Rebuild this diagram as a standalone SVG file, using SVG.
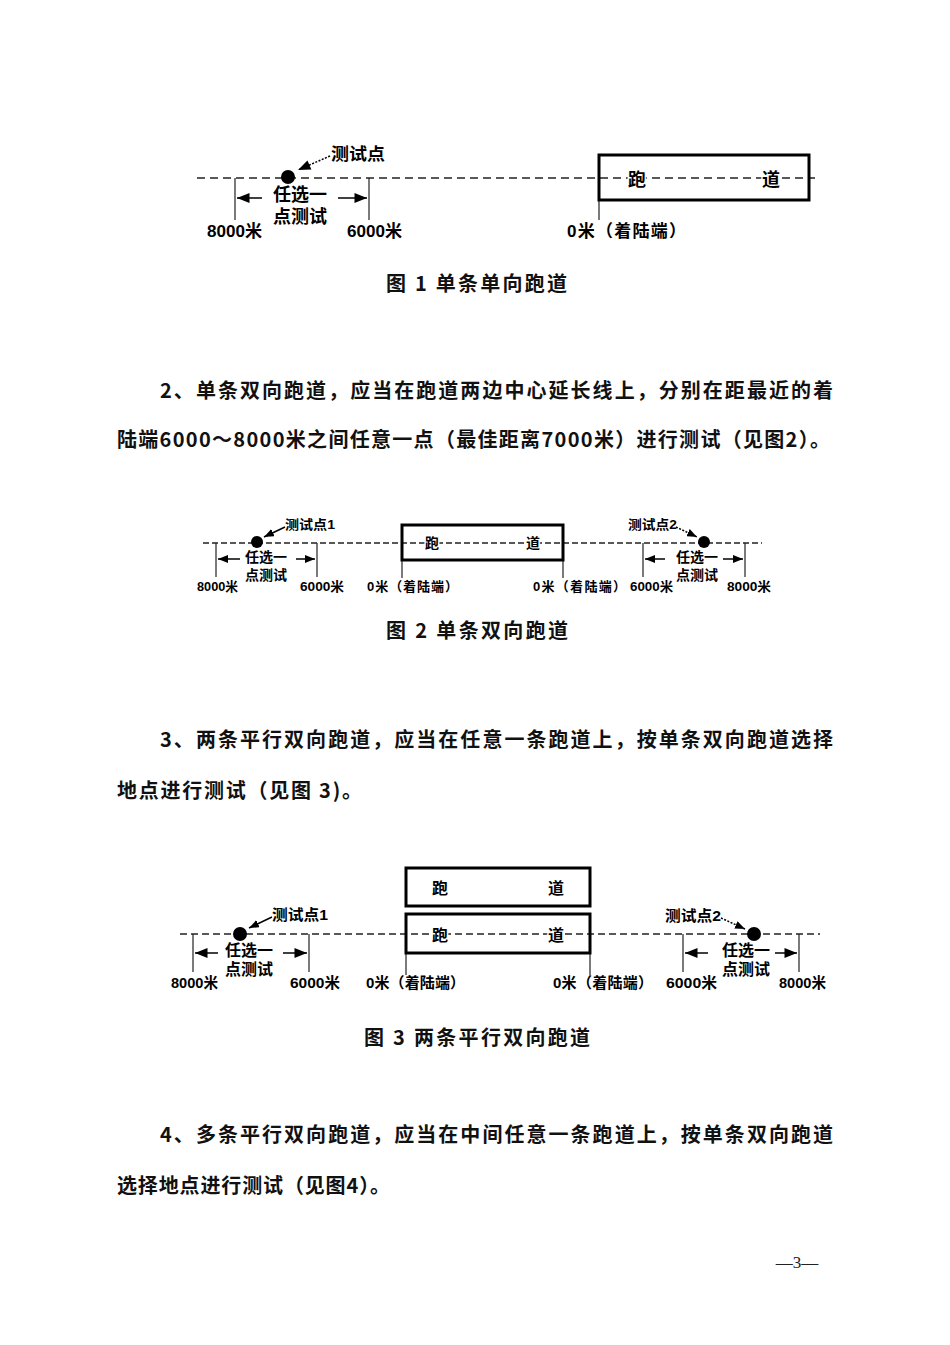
<svg xmlns="http://www.w3.org/2000/svg" width="950" height="1345" viewBox="0 0 950 1345">
<defs>
<style>
.lbl{font-family:"Liberation Sans","Noto Sans CJK SC",sans-serif;font-weight:bold;fill:#000;dominant-baseline:central}
.rw{font-family:"Noto Sans CJK SC",sans-serif;font-weight:bold;fill:#000;dominant-baseline:central;text-anchor:middle;stroke:#fff;stroke-width:3;paint-order:stroke}
.body{font-family:"Noto Sans CJK SC",sans-serif;font-weight:bold;font-size:20px;fill:#111;dominant-baseline:central}
.cap{font-family:"Noto Sans CJK SC",sans-serif;font-weight:bold;font-size:20px;fill:#111;dominant-baseline:central}
.dash{stroke:#222;stroke-width:1.5;fill:none}
.tick{stroke:#222;stroke-width:1.2;fill:none}
.box{stroke:#000;stroke-width:3;fill:none}
.arr{stroke:#000;stroke-width:1.5;fill:none}
.dot{fill:#000}
</style>
<marker id="ahL" viewBox="0 0 10 8" refX="10" refY="4" markerWidth="13" markerHeight="10" markerUnits="userSpaceOnUse" orient="auto"><path d="M0,0 L10,4 L0,8 z" fill="#000"/></marker>
<marker id="ahS" viewBox="0 0 10 8" refX="10" refY="4" markerWidth="10" markerHeight="8" markerUnits="userSpaceOnUse" orient="auto"><path d="M0,0 L10,4 L0,8 z" fill="#000"/></marker>
</defs>
<rect width="950" height="1345" fill="#fff"/>

<!-- ===== Figure 1 ===== -->
<g id="fig1">
<g id="fig1-connectors">
<line class="dash" x1="197" y1="178" x2="815" y2="178" stroke-dasharray="8 5"/>
<line class="tick" x1="235" y1="178" x2="235" y2="220"/>
<line class="tick" x1="369" y1="178" x2="369" y2="220"/>
<line class="tick" x1="599" y1="200" x2="599" y2="220"/>
<line class="arr" x1="262" y1="198" x2="237" y2="198" marker-end="url(#ahL)"/>
<line class="arr" x1="338" y1="198" x2="367" y2="198" marker-end="url(#ahL)"/>
<line class="arr" x1="330" y1="156" x2="298" y2="170" stroke-dasharray="2 1.5" marker-end="url(#ahL)"/>
</g>
<g id="fig1-runway"><rect class="box" x="599" y="155" width="210" height="45"/>
<text class="rw" x="637" y="178" font-size="18">跑</text>
<text class="rw" x="771" y="178" font-size="18">道</text></g>
<g id="fig1-point"><circle class="dot" cx="288" cy="177" r="7"/>
<text class="lbl" x="331" y="154" font-size="17" textLength="54" lengthAdjust="spacingAndGlyphs">测试点</text></g>
<g id="fig1-range"><text class="lbl" x="300" y="195" font-size="18" text-anchor="middle">任选一</text>
<text class="lbl" x="300" y="217" font-size="18" text-anchor="middle">点测试</text></g>
<g id="fig1-labels">
<text class="lbl" x="207" y="231" font-size="17" textLength="55" lengthAdjust="spacingAndGlyphs">8000米</text>
<text class="lbl" x="347" y="231" font-size="17" textLength="55" lengthAdjust="spacingAndGlyphs">6000米</text>
<text class="lbl" x="567" y="231" font-size="17" textLength="119" lengthAdjust="spacing">0米（着陆端）</text></g>
<text class="cap" x="386" y="282" textLength="181" lengthAdjust="spacing">图 1 单条单向跑道</text>
</g>

<!-- ===== Paragraph 2 ===== -->
<text class="body" x="160" y="389" textLength="673" lengthAdjust="spacing">2、单条双向跑道，应当在跑道两边中心延长线上，分别在距最近的着</text>
<text class="body" x="117" y="438" textLength="713" lengthAdjust="spacing">陆端6000～8000米之间任意一点（最佳距离7000米）进行测试（见图2）。</text>

<!-- ===== Figure 2 ===== -->
<g id="fig2">
<g id="fig2-connectors">
<line class="dash" x1="203" y1="543" x2="762" y2="543" stroke-dasharray="6 3"/>
<line class="tick" x1="216" y1="543" x2="216" y2="577"/>
<line class="tick" x1="317" y1="543" x2="317" y2="577"/>
<line class="tick" x1="402" y1="560" x2="402" y2="578"/>
<line class="tick" x1="563" y1="560" x2="563" y2="578"/>
<line class="tick" x1="643" y1="543" x2="643" y2="577"/>
<line class="tick" x1="745" y1="543" x2="745" y2="577"/>
<line class="arr" x1="240" y1="559" x2="218" y2="559" marker-end="url(#ahS)"/>
<line class="arr" x1="296" y1="559" x2="315" y2="559" marker-end="url(#ahS)"/>
<line class="arr" x1="665" y1="559" x2="645" y2="559" marker-end="url(#ahS)"/>
<line class="arr" x1="723" y1="559" x2="743" y2="559" marker-end="url(#ahS)"/>
<line class="arr" x1="285" y1="527" x2="264" y2="537" stroke-width="1.2" marker-end="url(#ahS)"/>
<line class="arr" x1="676" y1="527" x2="697" y2="537" stroke-width="1.2" stroke-dasharray="2 1.5" marker-end="url(#ahS)"/>
</g>
<g id="fig2-runway"><rect class="box" x="402" y="525" width="161" height="35"/>
<text class="rw" x="432" y="542" font-size="14">跑</text>
<text class="rw" x="533" y="542" font-size="14">道</text></g>
<g id="fig2-point1"><circle class="dot" cx="257" cy="542" r="6"/>
<text class="lbl" x="285" y="524" font-size="13" textLength="50" lengthAdjust="spacingAndGlyphs">测试点1</text></g>
<g id="fig2-point2"><circle class="dot" cx="704" cy="542" r="6"/>
<text class="lbl" x="628" y="524" font-size="13" textLength="49" lengthAdjust="spacingAndGlyphs">测试点2</text></g>
<g id="fig2-range1"><text class="lbl" x="266" y="557" font-size="14" text-anchor="middle">任选一</text>
<text class="lbl" x="266" y="575" font-size="14" text-anchor="middle">点测试</text></g>
<g id="fig2-range2"><text class="lbl" x="697" y="557" font-size="14" text-anchor="middle">任选一</text>
<text class="lbl" x="697" y="575" font-size="14" text-anchor="middle">点测试</text></g>
<g id="fig2-labels">
<text class="lbl" x="197" y="586" font-size="13" textLength="41" lengthAdjust="spacingAndGlyphs">8000米</text>
<text class="lbl" x="300" y="586" font-size="13" textLength="44" lengthAdjust="spacingAndGlyphs">6000米</text>
<text class="lbl" x="367" y="586" font-size="13" textLength="91" lengthAdjust="spacing">0米（着陆端）</text>
<text class="lbl" x="533" y="586" font-size="13" textLength="93" lengthAdjust="spacing">0米（着陆端）</text>
<text class="lbl" x="630" y="586" font-size="13" textLength="43" lengthAdjust="spacingAndGlyphs">6000米</text>
<text class="lbl" x="727" y="586" font-size="13" textLength="44" lengthAdjust="spacingAndGlyphs">8000米</text></g>
<text class="cap" x="386" y="629" textLength="182" lengthAdjust="spacing">图 2 单条双向跑道</text>
</g>

<!-- ===== Paragraph 3 ===== -->
<text class="body" x="160" y="738" textLength="673" lengthAdjust="spacing">3、两条平行双向跑道，应当在任意一条跑道上，按单条双向跑道选择</text>
<text class="body" x="117" y="789" textLength="245" lengthAdjust="spacing">地点进行测试（见图 3)。</text>

<!-- ===== Figure 3 ===== -->
<g id="fig3">
<g id="fig3-connectors">
<line class="dash" x1="180" y1="934" x2="820" y2="934" stroke-dasharray="7 4"/>
<line class="tick" x1="193" y1="934" x2="193" y2="972"/>
<line class="tick" x1="309" y1="934" x2="309" y2="972"/>
<line class="tick" x1="406" y1="953" x2="406" y2="975"/>
<line class="tick" x1="590" y1="953" x2="590" y2="975"/>
<line class="tick" x1="683" y1="934" x2="683" y2="972"/>
<line class="tick" x1="799" y1="934" x2="799" y2="972"/>
<line class="arr" x1="218" y1="953" x2="195" y2="953" marker-end="url(#ahL)"/>
<line class="arr" x1="283" y1="953" x2="307" y2="953" marker-end="url(#ahL)"/>
<line class="arr" x1="708" y1="953" x2="685" y2="953" marker-end="url(#ahL)"/>
<line class="arr" x1="775" y1="953" x2="797" y2="953" marker-end="url(#ahL)"/>
<line class="arr" x1="272" y1="917" x2="249" y2="928" marker-end="url(#ahS)"/>
<line class="arr" x1="721" y1="918" x2="745" y2="929" stroke-dasharray="2 1.5" marker-end="url(#ahS)"/>
</g>
<g id="fig3-runway-top"><rect class="box" x="406" y="868" width="184" height="38"/>
<text class="rw" x="440" y="887" font-size="16">跑</text>
<text class="rw" x="556" y="887" font-size="16">道</text></g>
<g id="fig3-runway-bottom"><rect class="box" x="406" y="914" width="184" height="39"/>
<text class="rw" x="440" y="934" font-size="16">跑</text>
<text class="rw" x="556" y="934" font-size="16">道</text></g>
<g id="fig3-point1"><circle class="dot" cx="240" cy="934" r="7"/>
<text class="lbl" x="272" y="914" font-size="15" textLength="56" lengthAdjust="spacingAndGlyphs">测试点1</text></g>
<g id="fig3-point2"><circle class="dot" cx="754" cy="934" r="7"/>
<text class="lbl" x="665" y="915" font-size="15" textLength="56" lengthAdjust="spacingAndGlyphs">测试点2</text></g>
<g id="fig3-range1"><text class="lbl" x="249" y="950" font-size="16" text-anchor="middle">任选一</text>
<text class="lbl" x="249" y="969" font-size="16" text-anchor="middle">点测试</text></g>
<g id="fig3-range2"><text class="lbl" x="746" y="950" font-size="16" text-anchor="middle">任选一</text>
<text class="lbl" x="746" y="969" font-size="16" text-anchor="middle">点测试</text></g>
<g id="fig3-labels">
<text class="lbl" x="171" y="982" font-size="15" textLength="47" lengthAdjust="spacingAndGlyphs">8000米</text>
<text class="lbl" x="290" y="982" font-size="15" textLength="50" lengthAdjust="spacingAndGlyphs">6000米</text>
<text class="lbl" x="366" y="982" font-size="15" textLength="99" lengthAdjust="spacing">0米（着陆端）</text>
<text class="lbl" x="553" y="982" font-size="15" textLength="100" lengthAdjust="spacing">0米（着陆端）</text>
<text class="lbl" x="666" y="982" font-size="15" textLength="51" lengthAdjust="spacingAndGlyphs">6000米</text>
<text class="lbl" x="779" y="982" font-size="15" textLength="47" lengthAdjust="spacingAndGlyphs">8000米</text></g>
<text class="cap" x="364" y="1036" textLength="226" lengthAdjust="spacing">图 3 两条平行双向跑道</text>
</g>

<!-- ===== Paragraph 4 ===== -->
<text class="body" x="160" y="1133" textLength="673" lengthAdjust="spacing">4、多条平行双向跑道，应当在中间任意一条跑道上，按单条双向跑道</text>
<text class="body" x="117" y="1184" textLength="273" lengthAdjust="spacing">选择地点进行测试（见图4）。</text>

<text x="797" y="1262" font-family="Liberation Serif, serif" font-size="17" fill="#222" text-anchor="middle" dominant-baseline="central">—3—</text>
</svg>
